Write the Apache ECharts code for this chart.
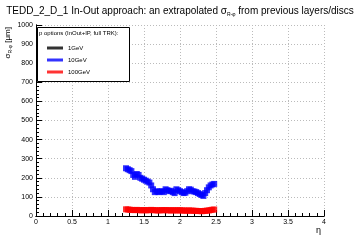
<!DOCTYPE html>
<html><head><meta charset="utf-8">
<script src="https://cdn.jsdelivr.net/npm/echarts@6/dist/echarts.min.js"></script>
<style>html,body{margin:0;padding:0;background:#fff}#c{width:360px;height:240px}</style>
</head><body><div id="c"></div>
<script>
const etaBins = [1.250,1.275,1.300,1.325,1.350,1.375,1.400,1.425,1.450,1.475,1.500,1.525,1.550,1.575,1.600,1.625,1.650,1.675,1.700,1.725,1.750,1.775,1.800,1.825,1.850,1.875,1.900,1.925,1.950,1.975,2.000,2.025,2.050,2.075,2.100,2.125,2.150,2.175,2.200,2.225,2.250,2.275,2.300,2.325,2.350,2.375,2.400,2.425,2.450,2.475];
const sigma1GeV = [];
const sigma10GeV = [250,245,240,235,215,205,220,215,200,195,190,185,180,175,160,140,125,130,125,128,130,125,140,135,130,132,125,120,140,135,130,125,120,122,130,140,138,130,128,125,120,115,110,105,120,135,150,160,165,168];
const sigma100GeV = [35,34,33,32,31,31,32,31,30,30,31,30,30,31,32,31,30,30,29,30,31,30,31,30,30,29,30,30,29,30,30,29,29,28,28,29,28,28,27,27,26,26,25,26,27,28,29,31,33,34];
const legendNames = ['1GeV','10GeV','100GeV'];
const seriesColors = ['#000000','#0000ff','#ff0000'];
const xTicks = [0,0.5,1,1.5,2,2.5,3,3.5,4];

function pairs(v){ return v.map((y,i)=>[etaBins[i], y]); }
const font = 'Liberation Sans, Arial, sans-serif';
const chart = echarts.init(document.getElementById('c'), null, {renderer:'canvas'});
const allSeries = [sigma1GeV, sigma10GeV, sigma100GeV];
chart.setOption({
  animation:false,
  backgroundColor:'#fff',
  title:{
    text:'TEDD_2_D_1 In-Out approach: an extrapolated σ{sub|R-φ} from previous layers/discs',
    left:'center', top:1,
    textStyle:{fontFamily:font, fontSize:10, fontWeight:'normal', color:'#000',
      rich:{sub:{fontFamily:font, fontSize:5, verticalAlign:'bottom', padding:[6,0,0,0]}}}
  },
  grid:{left:36, right:36, top:25, bottom:24, containLabel:false},
  legend:{
    data:legendNames, orient:'vertical', left:42, top:40, itemGap:6, z:30,
    itemWidth:16, itemHeight:3, icon:'rect',
    textStyle:{fontFamily:font, fontSize:6, color:'#000', padding:[0,0,0,0]}
  },
  xAxis:[{
    type:'value', min:0, max:4, interval:0.5,
    axisLine:{onZero:false, lineStyle:{color:'#000', width:1}},
    axisTick:{inside:true, length:6, lineStyle:{color:'#000'}},
    minorTick:{show:true, splitNumber:5, length:3, lineStyle:{color:'#000'}},
    axisLabel:{fontFamily:font, fontSize:7, color:'#000', margin:3,
      formatter:v=>xTicks.includes(+v)?String(v):''},
    splitLine:{show:true, lineStyle:{color:'#bbb', type:[1,2]}}
  },{
    type:'value', min:0, max:4, position:'top',
    axisLine:{show:true, lineStyle:{color:'#000', type:[3,2]}},
    axisTick:{show:false}, axisLabel:{show:false}, splitLine:{show:false}
  }],
  yAxis:[{
    type:'value', min:0, max:1000, interval:100,
    axisLine:{show:true, onZero:false, lineStyle:{color:'#000', width:1}},
    axisTick:{inside:true, length:6, lineStyle:{color:'#000'}},
    minorTick:{show:true, splitNumber:5, length:3, lineStyle:{color:'#000'}},
    axisLabel:{fontFamily:font, fontSize:7, color:'#000', margin:3, formatter:v=>String(v)},
    splitLine:{show:true, lineStyle:{color:'#bbb', type:[1,2]}}
  },{
    type:'value', min:0, max:1000, position:'right',
    axisLine:{show:true, lineStyle:{color:'#000', type:[3,2]}},
    axisTick:{show:false}, axisLabel:{show:false}, splitLine:{show:false}
  }],
  graphic:[
    {type:'rect', left:37, top:27, z:10, shape:{width:92, height:54},
      style:{fill:'#fff', stroke:'#000', lineWidth:1}},
    {type:'text', left:39, top:30, z:11,
      style:{text:'p options (InOut+IP, full TRK):', fontFamily:font, fontSize:6, fill:'#000'}},
    {type:'text', x:8, y:27, rotation:Math.PI/2, z:11,
      style:{text:'σ{sub|R-φ} [μm]', fontFamily:font, fontSize:8, fill:'#000', align:'right', verticalAlign:'middle',
        rich:{sub:{fontFamily:font, fontSize:5, verticalAlign:'bottom', padding:[5,0,0,0]}}}},
    {type:'text', left:316, top:226, z:11,
      style:{text:'η', fontFamily:font, fontSize:9, fill:'#000'}}
  ],
  series: allSeries.map((d,i)=>({
    name:legendNames[i], type:'scatter', data:pairs(d), symbol:'rect', symbolSize:6,
    itemStyle:{color:seriesColors[i]}, z:5
  }))
});
</script></body></html>
